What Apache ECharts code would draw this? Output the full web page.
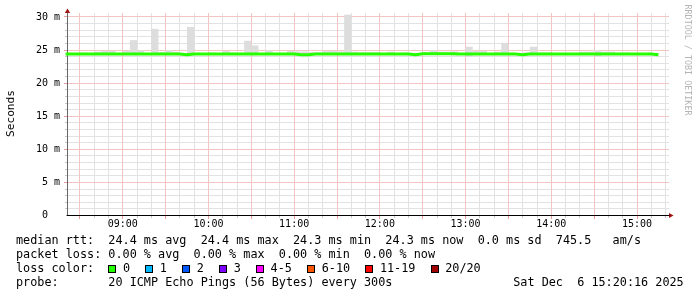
<!DOCTYPE html>
<html><head><meta charset="utf-8">
<script src="https://cdn.jsdelivr.net/npm/echarts@6/dist/echarts.min.js"></script>
<style>html,body{margin:0;padding:0;background:#fff}#c{width:697px;height:297px}</style>
</head><body><div id="c"></div>
<script>
// ---- data (minutes since midnight, ms) ----
const FIRST_BIN = 500;   // 08:20
const BIN_STEP = 5;      // 300 s
const X_MIN = 501;       // 08:21 left edge
const X_MAX = 922.4;     // right edge
const medianRtt = [
 24.4,24.4,24.4,24.4,24.4,24.4,24.4,24.4,24.4,24.4,
 24.4,24.4,24.4,24.4,24.4,24.4,24.3,24.4,24.4,24.4,
 24.4,24.4,24.4,24.4,24.4,24.4,24.4,24.4,24.4,24.4,
 24.4,24.4,24.3,24.3,24.4,24.4,24.4,24.4,24.4,24.4,
 24.4,24.4,24.4,24.4,24.4,24.4,24.4,24.4,24.3,24.45,
 24.45,24.45,24.45,24.45,24.4,24.4,24.4,24.4,24.4,24.4,
 24.4,24.4,24.4,24.3,24.4,24.4,24.4,24.4,24.4,24.4,
 24.4,24.4,24.4,24.4,24.4,24.4,24.4,24.4,24.4,24.4,
 24.4,24.4,24.3
];
const smokeHigh = [
 24.5,24.5,24.65,24.5,24.75,24.9,24.9,24.5,24.9,26.5,
 24.95,24.5,28.2,24.7,25.0,24.75,24.4,28.5,24.6,24.5,
 24.65,24.5,24.85,24.65,24.5,26.4,25.7,24.5,25.0,24.5,
 24.5,24.85,24.8,24.8,24.7,24.7,24.9,24.9,24.8,30.35,
 24.75,24.7,24.7,24.7,24.5,24.75,24.55,24.65,24.4,24.5,
 24.7,25.0,24.75,24.75,24.8,24.5,25.5,24.9,24.9,24.5,
 24.75,26.1,24.5,24.4,24.65,25.5,24.65,24.65,24.5,24.5,
 24.5,24.5,24.75,24.75,25.0,24.75,24.75,24.5,24.65,24.5,
 24.5,24.5,24.55
];
const smokeLow = [
 24.3,24.3,24.3,24.3,24.3,24.3,24.3,24.3,24.3,24.3,
 24.3,24.3,24.3,24.3,24.3,24.3,24.2,24.3,24.3,24.3,
 24.3,24.3,24.3,24.3,24.3,24.3,24.3,24.3,24.3,24.3,
 24.3,24.3,24.2,24.2,24.3,24.3,24.3,24.3,24.3,24.3,
 24.3,24.3,24.3,24.3,24.3,24.3,24.3,24.3,24.2,24.35,
 24.35,24.35,24.35,24.35,24.3,24.3,24.0,24.3,24.3,24.3,
 24.3,24.3,24.3,24.2,24.3,24.3,24.3,24.3,24.3,24.3,
 24.3,24.3,24.3,24.3,24.1,24.3,24.3,24.3,24.3,24.3,
 24.3,24.3,24.2
];
const hourLabels = ['09:00','10:00','11:00','12:00','13:00','14:00','15:00'];
const yTickValues = [0,5,10,15,20,25,30];
const yTickLabels = ['0  ','5 m','10 m','15 m','20 m','25 m','30 m'];
const Y_MAX = 30.6;
const rttStats = ['24.4 ms avg','24.4 ms max','24.3 ms min','24.3 ms now','0.0 ms sd','745.5   am/s'];
const lossStats = ['0.00 % avg','0.00 % max','0.00 % min','0.00 % now'];
const lossLabels = ['0','1','2','3','4-5','6-10','11-19','20/20'];
const lossColors = ['#26ff00','#00b8ff','#0059ff','#7e00ff','#ff00ff','#ff5500','#ff0000','#a10000'];
const probeText = '20 ICMP Echo Pings (56 Bytes) every 300s';
const dateText = 'Sat Dec  6 15:20:16 2025';
const watermark = 'RRDTOOL / TOBI OETIKER';
const yName = 'Seconds';

// ---- derived ----
const toMin = s => { const p = s.split(':'); return (+p[0]) * 60 + (+p[1]); };
const hourValues = hourLabels.map(toMin);
const binStarts = medianRtt.map((_, i) => FIRST_BIN + i * BIN_STEP);
const halfHours = [], tenMins = [];
for (let m = Math.ceil(X_MIN / 10) * 10; m <= X_MAX; m += 10) {
  if (m % 30 === 0) halfHours.push(m); else tenMins.push(m);
}
const yMinor = [];
for (let v = 1; v < Y_MAX; v++) if (v % 5 !== 0) yMinor.push(v);
const yMajorGrid = yTickValues.filter(v => v > 0);

const medianData = binStarts.map((t, i) => [t, medianRtt[i]]);
medianData.push([binStarts[binStarts.length - 1] + BIN_STEP, medianRtt[medianRtt.length - 1]]);
const smokeData = binStarts.map((t, i) => [t, smokeLow[i], smokeHigh[i]]);

// ---- layout / style ----
const G = { left: 67, top: 13, width: 602, height: 202.5 };
const MONO = '"DejaVu Sans Mono", monospace';
const GRID_MINOR = '#e2e2e2';
const GRID_MAJOR = '#f3c4c4';
const TICK_MINOR = '#c8c8c8';
const TICK_MAJOR = '#eb9b9b';
const LEG_FS = 11.8, CHAR_W = LEG_FS * 0.602, LEG_X = 16;
const rows = [241, 255, 269, 283];

const graphics = [];
const txt = (x, y, s, extra) => Object.assign({ type: 'text', x, y, silent: true,
  style: Object.assign({ text: s, fontFamily: MONO, fontSize: LEG_FS, fill: '#000', align: 'left', verticalAlign: 'middle' }, extra || {}) });
graphics.push(txt(LEG_X, rows[0], 'median rtt:  ' + rttStats.join('  ')));
graphics.push(txt(LEG_X, rows[1], 'packet loss: ' + lossStats.join('  ')));
graphics.push(txt(LEG_X, rows[2], 'loss color:'));
graphics.push(txt(LEG_X, rows[3], 'probe:       ' + probeText));
graphics.push(txt(LEG_X + 70 * CHAR_W, rows[3], dateText));
let lx = LEG_X + 13 * CHAR_W;
lossLabels.forEach((lab, i) => {
  const bx = Math.round(lx), by = Math.round(rows[2] - 4);
  graphics.push({ type: 'rect', silent: true, shape: { x: bx, y: by, width: 8, height: 8 }, style: { fill: '#000' } });
  graphics.push({ type: 'rect', silent: true, shape: { x: bx + 1, y: by + 1, width: 6, height: 6 }, style: { fill: lossColors[i] } });
  const tx = lx + 14.6;
  graphics.push(txt(tx, rows[2], lab));
  lx = tx + lab.length * CHAR_W + 15.2;
});
graphics.push({ type: 'text', x: 11, y: 113.5, rotation: Math.PI / 2, silent: true,
  style: { text: yName, fontFamily: MONO, fontSize: 11.2, fill: '#000', align: 'center', verticalAlign: 'middle' } });
graphics.push({ type: 'text', x: 687.5, y: 60, rotation: -Math.PI / 2, silent: true,
  style: { text: watermark, fontFamily: MONO, fontSize: 8.4, fill: '#b4b4b4', align: 'center', verticalAlign: 'middle' } });
// axis arrows
graphics.push({ type: 'polygon', silent: true, shape: { points: [[G.left + 0.5, G.top - 4.5], [G.left - 2.2, G.top], [G.left + 3.2, G.top]] }, style: { fill: '#a01010' } });
const xr = G.left + G.width, yb = G.top + G.height;
graphics.push({ type: 'polygon', silent: true, shape: { points: [[xr + 4.5, yb], [xr, yb - 2.5], [xr, yb + 2.5]] }, style: { fill: '#a01010' } });

// pale solid grid lines (filled 1px rects) placed through the axes' scales
function vGrid(color, tickColor, tick) {
  return (params, api) => {
    const cs = params.coordSys;
    const x = Math.floor(api.coord([api.value(0), 0])[0]);
    const top = Math.round(cs.y), bottom = Math.floor(cs.y + cs.height);
    return { type: 'group', children: [
      { type: 'rect', shape: { x, y: top, width: 1, height: bottom - top }, style: { fill: color } },
      { type: 'rect', shape: { x, y: bottom + 1, width: 1, height: tick }, style: { fill: tickColor } }
    ] };
  };
}
function hGrid(color, tickColor, tick) {
  return (params, api) => {
    const cs = params.coordSys;
    const y = Math.floor(api.coord([X_MIN, api.value(0)])[1]);
    const left = Math.round(cs.x), right = Math.round(cs.x + cs.width);
    return { type: 'group', children: [
      { type: 'rect', shape: { x: left + 1, y, width: right - left - 1, height: 1 }, style: { fill: color } },
      { type: 'rect', shape: { x: left - tick, y, width: tick, height: 1 }, style: { fill: tickColor } }
    ] };
  };
}
const gridSeries = (vals, dim, color, tickColor, tick, z) => ({
  type: 'custom', silent: true, z, data: vals.map(v => [v]),
  encode: dim === 'x' ? { x: 0 } : { y: 0 },
  renderItem: dim === 'x' ? vGrid(color, tickColor, tick) : hGrid(color, tickColor, tick)
});

const chart = echarts.init(document.getElementById('c'), null, { renderer: 'canvas' });
chart.setOption({
  animation: false,
  backgroundColor: '#fff',
  grid: { left: G.left, top: G.top, width: G.width, height: G.height, containLabel: false },
  xAxis: { type: 'value', min: X_MIN, max: X_MAX,
    axisLine: { show: true, onZero: false, lineStyle: { color: '#000', width: 1 } },
    axisTick: { show: false },
    axisLabel: { show: true, customValues: hourValues, margin: 4, fontFamily: MONO, fontSize: 10, color: '#000',
      formatter: v => hourLabels[hourValues.indexOf(Math.round(v))] || '' },
    splitLine: { show: false } },
  yAxis: { type: 'value', min: 0, max: Y_MAX,
    axisLine: { show: true, onZero: false, lineStyle: { color: '#666', width: 1 } },
    axisTick: { show: false },
    axisLabel: { show: true, customValues: yTickValues, margin: 7, fontFamily: MONO, fontSize: 10, color: '#000',
      formatter: v => yTickLabels[yTickValues.indexOf(Math.round(v))] || '' },
    splitLine: { show: false } },
  series: [
    gridSeries(tenMins, 'x', GRID_MINOR, TICK_MINOR, 2, 1),
    gridSeries(yMinor, 'y', GRID_MINOR, TICK_MINOR, 2, 1),
    gridSeries(halfHours, 'x', GRID_MAJOR, TICK_MAJOR, 3, 1),
    gridSeries(yMajorGrid, 'y', GRID_MAJOR, TICK_MAJOR, 3, 1),
    { type: 'custom', name: 'smoke', data: smokeData, silent: true,
      encode: { x: 0, y: [1, 2] }, z: 2,
      renderItem: (params, api) => {
        const t = api.value(0), lo = api.value(1), hi = api.value(2);
        const p1 = api.coord([t, hi]), p2 = api.coord([t + BIN_STEP, lo]);
        const cs = params.coordSys;
        const r = echarts.graphic.clipRectByRect(
          { x: p1[0], y: p1[1], width: p2[0] - p1[0], height: p2[1] - p1[1] },
          { x: cs.x, y: cs.y, width: cs.width, height: cs.height });
        return r ? { type: 'rect', shape: r, style: { fill: '#dddddd' } } : null;
      } },
    { type: 'line', name: 'median rtt', data: medianData, step: 'end',
      symbol: 'none', silent: true, z: 3, clip: true,
      lineStyle: { color: '#26ff00', width: 3 } }
  ],
  graphic: graphics
});
</script></body></html>
